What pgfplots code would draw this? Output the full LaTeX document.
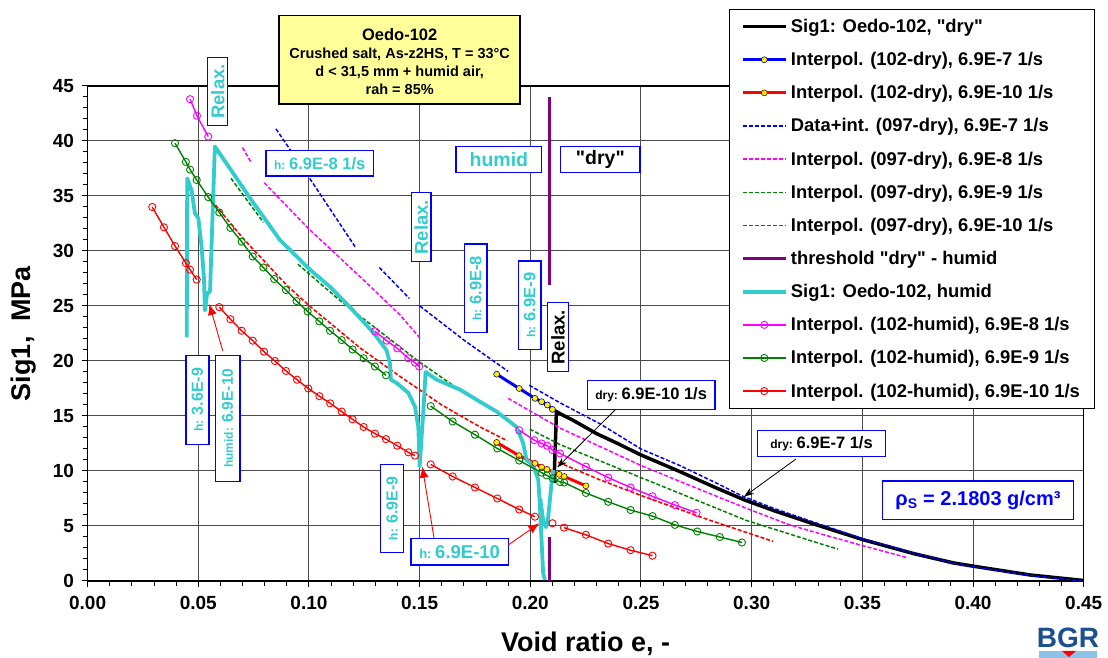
\documentclass[border=0pt]{standalone}
\usepackage{fontspec}
\setmainfont{Liberation Sans}[Ligatures=TeXOff]
\usepackage{pgfplots}
\pgfplotsset{compat=1.18}
\usetikzlibrary{arrows.meta}

\definecolor{cyanT}{RGB}{51,204,204}
\definecolor{purp}{RGB}{128,0,128}
\definecolor{grn}{RGB}{0,128,0}
\definecolor{mag}{RGB}{255,0,255}
\definecolor{rd}{RGB}{255,0,0}
\definecolor{titlebg}{RGB}{255,255,153}
\definecolor{bgrblue}{RGB}{27,79,143}
\definecolor{bgrlight}{RGB}{140,195,230}

\newcommand{\fs}[1]{\fontsize{#1}{#1}\selectfont}

\tikzset{
  bx/.style={draw=blue, line width=1.2pt, fill=white, inner sep=0pt, font=\bfseries, text=cyanT},
  redarr/.style={red, line width=0.9pt, -{Latex[length=11pt,width=9pt]}},
  blkarr/.style={black, line width=0.8pt, -{Stealth[length=10pt,width=7pt]}},
}

\begin{document}
\begin{tikzpicture}
\useasboundingbox (0,0) rectangle (1108pt,658pt);
\begin{axis}[
  at={(87.6pt,77pt)}, anchor=south west,
  scale only axis, width=996.1pt, height=495pt,
  xmin=0, xmax=0.45, ymin=0, ymax=45,
  xtick={0,0.05,0.1,0.15,0.2,0.25,0.3,0.35,0.4,0.45},
  ytick={0,5,10,15,20,25,30,35,40,45},
  minor tick num=4,
  scaled x ticks=false,
  tick align=outside, tick pos=left,
  major tick length=6pt, minor tick length=5pt,
  tick style={line width=1pt, black},
  grid=major,
  major grid style={line width=1pt, draw=black!70},
  axis line style={line width=1.3pt},
  unbounded coords=jump,
  /pgf/number format/assume math mode=true,
  tick label style={font=\bfseries\fs{19}},
  xticklabel shift=6pt, yticklabel shift=4pt,
  xlabel={Void ratio e, -},
  ylabel={Sig1,\ \ MPa},
  label style={font=\bfseries\fs{27}},
  xlabel style={at={(axis description cs:0.5,-0.1434)}, anchor=base},
  ylabel style={at={(axis description cs:-0.0571,0.5)}, anchor=base},
  legend cell align=left,
  legend image code/.code={\draw[mark repeat=2,mark phase=2,#1] plot coordinates {(0pt,0pt) (21.7pt,0pt) (43.4pt,0pt)};},
  legend style={at={(0.6439,1.1549)}, anchor=north west, draw=black, line width=0.8pt,
    fill=white, font=\bfseries\fs{18.4}, inner xsep=11.3pt, inner ysep=6.5pt,
    nodes={inner sep=3pt}, row sep=12.3pt},
  xticklabel style={/pgf/number format/.cd, fixed, fixed zerofill, precision=2},
]

% Sig1 dry
\addplot[black, line width=3.5pt] coordinates {
  (0.2107,8.9) (0.2118,15.4) (0.2140,15.15) (0.2194,14.6) (0.2299,13.4)
  (0.2400,12.45) (0.2495,11.5) (0.2675,9.95) (0.2841,8.45) (0.2970,7.35)
  (0.3100,6.4) (0.3278,5.2) (0.3504,3.75) (0.3730,2.5) (0.3910,1.65)
  (0.4000,1.35) (0.4257,0.55) (0.4497,0.05)
};
\addlegendentry{Sig1: Oedo-102, "dry"}

% 102-dry 6.9E-7
\addplot[blue, line width=3pt, mark=*, mark size=3pt,
  mark options={fill=yellow, draw=blue!50!black, line width=0.6pt}] coordinates {
  (0.1848,18.8) (0.1950,17.5) (0.2021,16.6) (0.2051,16.3) (0.2077,16.0) (0.2100,15.6)
};
\addlegendentry{Interpol. (102-dry), 6.9E-7 1/s}

% 102-dry 6.9E-10
\addplot[rd, line width=3pt, mark=*, mark size=3pt,
  mark options={fill=yellow, draw=red!50!black, line width=0.6pt}] coordinates {
  (0.1848,12.6) (0.1949,11.4) (0.2021,10.7) (0.2051,10.35) (0.2075,10.15)
  (0.2130,9.7) (0.2153,9.5) (0.2251,8.65)
};
\addlegendentry{Interpol. (102-dry), 6.9E-10 1/s}

% 097-dry 6.9E-7
\addplot[blue, line width=1.5pt, dash pattern=on 4pt off 2pt] coordinates {
  (0.0851,41.1) (0.1000,36.7) (0.1208,30.4) (0.125,nan)
  (0.1318,28.5) (0.1453,25.7) (0.148,nan)
  (0.1501,25.0) (0.1700,21.9) (0.1900,19.05) (0.195,nan)
  (0.1995,17.8) (0.2134,16.2) (0.2314,14.3) (0.2500,12.0) (0.2675,10.5)
  (0.2841,8.9) (0.2960,7.7) (0.3100,6.6) (0.3280,5.35) (0.3500,3.85)
  (0.3730,2.55) (0.3910,1.65) (0.4000,1.3) (0.4260,0.5) (0.4490,0.0)
};
\addlegendentry{Data+int. (097-dry), 6.9E-7 1/s}

% 097-dry 6.9E-8
\addplot[mag, line width=1.5pt, dash pattern=on 4pt off 2pt] coordinates {
  (0.0700,39.4) (0.0737,38.1) (0.076,nan)
  (0.0798,36.2) (0.1000,32.0) (0.1250,27.3) (0.1411,24.2) (0.1501,22.1) (0.17,nan)
  (0.1900,16.6) (0.2134,13.9) (0.2500,10.5) (0.2676,9.05) (0.2977,6.6)
  (0.3172,5.1) (0.3308,4.3) (0.3504,3.2) (0.3707,2.1)
};
\addlegendentry{Interpol. (097-dry), 6.9E-8 1/s}

% 097-dry 6.9E-9
\addplot[grn, line width=1.5pt, dash pattern=on 4pt off 2pt] coordinates {
  (0.0648,36.6) (0.0794,32.6) (0.087,nan)
  (0.0950,28.8) (0.1140,25.5) (0.1300,23.0) (0.1500,19.9) (0.1650,17.8) (0.1800,16.0) (0.19,nan)
  (0.1998,13.8) (0.2134,12.4) (0.2500,9.4) (0.2977,5.5) (0.3308,3.4) (0.3390,2.9)
};
\addlegendentry{Interpol. (097-dry), 6.9E-9 1/s}

% 097-dry 6.9E-10
\addplot[rd, line width=1.6pt, dash pattern=on 4pt off 2pt] coordinates {
  (0.0560,34.6) (0.0700,31.2) (0.0899,26.9) (0.0997,25.1) (0.1230,21.2)
  (0.1411,18.6) (0.1600,16.0) (0.1773,14.0) (0.1896,12.75) (0.2,nan)
  (0.2125,10.8) (0.2314,9.2) (0.2510,7.7) (0.2800,5.6) (0.3097,3.6)
};
\addlegendentry{Interpol. (097-dry), 6.9E-10 1/s}

% threshold
\addplot[purp, line width=3.5pt] coordinates {
  (0.2087,44.0) (0.2087,26.9) (0.2087,nan) (0.2087,4.0) (0.2087,0)
};
\addlegendentry{threshold "dry" - humid}

% Sig1 humid
\addplot[cyanT, line width=3.8pt, line join=round] coordinates {
  (0.0448,22.15) (0.0450,36.6) (0.0470,35.5) (0.0485,33.4) (0.0500,33.0)
  (0.0515,30.4) (0.0526,27.4) (0.0530,24.6) (0.0540,26.15) (0.0553,26.3)
  (0.0575,39.5) (0.0643,37.5) (0.0734,34.8) (0.0869,31.0) (0.1005,28.3)
  (0.1095,26.75) (0.1185,24.9) (0.1290,22.6) (0.1350,21.0) (0.1366,19.8)
  (0.1370,18.3) (0.1396,18.0) (0.1449,17.1) (0.1479,15.85) (0.1494,14.0)
  (0.1500,10.4) (0.1516,15.2) (0.1527,19.0) (0.1577,18.3) (0.1682,17.4)
  (0.1772,16.3) (0.1848,15.4) (0.1938,14.0) (0.1968,12.5) (0.1983,11.0)
  (0.2013,10.5) (0.2036,9.2) (0.2043,7.0) (0.2050,4.0) (0.2058,0.7) (0.2066,0.1)
  (0.2060,nan)
  (0.2045,7.5) (0.2058,5.5) (0.2070,4.9) (0.2078,5.25) (0.2096,8.9) (0.2103,10.1)
};
\addlegendentry{Sig1: Oedo-102, humid}

% 102-humid 6.9E-8
\addplot[mag, line width=1.4pt, mark=o, mark size=3.6pt, mark options={solid, line width=0.9pt}] coordinates {
  (0.0463,43.8) (0.0494,42.3) (0.0545,40.4) (0.09,nan)
  (0.1298,22.7) (0.1351,21.85) (0.1399,21.15) (0.1449,20.25) (0.1479,19.85) (0.1498,19.5) (0.17,nan)
  (0.1950,13.7) (0.2018,12.8) (0.2051,12.5) (0.2076,12.3) (0.2100,11.9) (0.2134,11.6)
  (0.2251,10.4) (0.2352,9.4) (0.2453,8.5) (0.2552,7.7) (0.2653,6.9) (0.2751,6.2)
};
\addlegendentry{Interpol. (102-humid), 6.9E-8 1/s}

% 102-humid 6.9E-9
\addplot[grn, line width=1.4pt, mark=o, mark size=3.6pt, mark options={solid, line width=0.9pt}] coordinates {
  (0.0395,39.8) (0.0444,38.1) (0.0463,37.4) (0.0493,36.45) (0.0545,34.9)
  (0.0595,33.5) (0.0645,32.1) (0.0696,30.85) (0.0746,29.5) (0.0794,28.5)
  (0.0843,27.45) (0.0896,26.45) (0.0944,25.45) (0.0994,24.5) (0.1047,23.6)
  (0.1095,22.75) (0.1148,21.9) (0.1197,21.05) (0.1247,20.25) (0.1298,19.5)
  (0.1348,18.7) (0.145,nan)
  (0.1550,15.9) (0.1649,14.5) (0.1750,13.3) (0.1851,12.05) (0.1950,10.95)
  (0.2051,9.85) (0.2074,9.6) (0.2101,9.33) (0.2134,9.0) (0.2153,8.95)
  (0.2251,8.0) (0.2352,7.2) (0.2453,6.45) (0.2552,5.9) (0.2653,5.1)
  (0.2754,4.5) (0.2856,4.0) (0.2956,3.5)
};
\addlegendentry{Interpol. (102-humid), 6.9E-9 1/s}

% 102-humid 6.9E-10
\addplot[rd, line width=1.4pt, mark=o, mark size=3.6pt, mark options={solid, line width=0.9pt}] coordinates {
  (0.0292,34.0) (0.0345,32.15) (0.0395,30.45) (0.0444,28.9) (0.0463,28.3) (0.0493,27.4) (0.055,nan)
  (0.0595,24.9) (0.0645,23.8) (0.0696,22.75) (0.0746,21.85) (0.0797,20.85)
  (0.0846,20.0) (0.0896,19.1) (0.0946,18.3) (0.0997,17.5) (0.1047,16.8)
  (0.1096,16.15) (0.1148,15.4) (0.1197,14.7) (0.1247,14.0) (0.1298,13.4)
  (0.1348,12.9) (0.1399,12.3) (0.1449,11.7) (0.1479,11.4) (0.151,nan)
  (0.1550,10.6) (0.1649,9.5) (0.1750,8.5) (0.1851,7.5) (0.1950,6.5) (0.2021,5.85) (0.206,nan)
  (0.2100,5.25) (0.213,nan)
  (0.2152,4.85) (0.2251,4.2) (0.2352,3.4) (0.2453,2.8) (0.2552,2.3)
};
\addlegendentry{Interpol. (102-humid), 6.9E-10 1/s}

\end{axis}

\begin{scope}[x=1pt, y=1pt]
% title box
\draw[fill=titlebg, line width=1.2pt] (279,554) rectangle (520,642.3);
\node[anchor=base, font=\bfseries\fs{16.5}, inner sep=0pt] at (399.7,617.8) {Oedo-102};
\node[anchor=base, font=\bfseries\fs{14.5}, inner sep=0pt] at (399.7,599.5) {Crushed salt, As-z2HS, T = 33°C};
\node[anchor=base, font=\bfseries\fs{14.5}, inner sep=0pt] at (399.7,581.8) {d < 31,5 mm + humid air,};
\node[anchor=base, font=\bfseries\fs{14.5}, inner sep=0pt] at (399.7,563.5) {rah = 85\%};

% labels in boxes
\node[bx, rotate=90, minimum width=68.4pt, minimum height=20pt] at (217.7,566.5) {\fs{18.5}Relax.};
\node[bx, minimum width=107.3pt, minimum height=25.3pt] at (319.7,494.65) {{\fs{12}h:} {\fs{16.5}6.9E-8 1/s}};
\node[bx, minimum width=85.7pt, minimum height=26pt] at (498.85,498.3) {\fs{19.5}humid};
\node[bx, text=black, minimum width=79.3pt, minimum height=26pt] at (600.4,498.3) {\fs{19.5}"dry"};
\node[bx, rotate=90, minimum width=69pt, minimum height=19.3pt] at (421.35,430.8) {\fs{18.5}Relax.};
\node[bx, rotate=90, minimum width=88.7pt, minimum height=22.7pt] at (475.65,369.65) {{\fs{12}h:}\enspace{\fs{16.5}6.9E-8}};
\node[bx, rotate=90, minimum width=88.3pt, minimum height=22.7pt] at (529.65,352.85) {{\fs{12}h:}\enspace{\fs{16.5}6.9E-9}};
\node[bx, text=black, rotate=90, minimum width=69pt, minimum height=20.6pt] at (558,320.8) {\fs{18.5}Relax.};

\node[bx, text=black, minimum width=127.7pt, minimum height=28.6pt] at (651.15,263) {{\fs{12}dry:} {\fs{16.5}6.9E-10 1/s}};
\draw[blkarr] (615,248) -- (557.3,190.7);
\node[bx, text=black, minimum width=128.4pt, minimum height=26pt] at (821.5,214.3) {{\fs{12}dry:} {\fs{16.5}6.9E-7 1/s}};
\draw[blkarr] (796,199) -- (744,161.3);

\node[bx, text=blue, minimum width=190.6pt, minimum height=38.3pt] at (978,157.85) {\fs{20}ρ\textsubscript{S} = 2.1803 g/cm³};

\node[bx, rotate=90, minimum width=89pt, minimum height=23pt] at (197.5,258.2) {{\fs{12}h:}\enspace{\fs{16}3.6E-9}};
\node[bx, rotate=90, minimum width=126pt, minimum height=24.7pt] at (227.65,239.7) {{\fs{12}humid:}\enspace{\fs{15.5}6.9E-10}};
\draw[redarr] (222.7,307.3) -- (209.3,354);
\node[bx, rotate=90, minimum width=88pt, minimum height=22.6pt] at (392,149.7) {{\fs{12}h:}\enspace{\fs{16}6.9E-9}};
\node[bx, minimum width=97.3pt, minimum height=26.3pt] at (459.65,106.15) {{\fs{13}h:} {\fs{18.5}6.9E-10}};
\draw[redarr] (434,120) -- (422.3,191.3);
\draw[redarr] (508.3,113) -- (539.3,134.7);

% BGR logo
\node[font=\bfseries\fs{28}, text=bgrblue, inner sep=0pt] at (1068,20) {BGR};
\fill[bgrlight] (1039,0) rectangle (1097,7);
\fill[red] (1062,7) -- (1076,7) -- (1069,1) -- cycle;
\end{scope}
\end{tikzpicture}
\end{document}
